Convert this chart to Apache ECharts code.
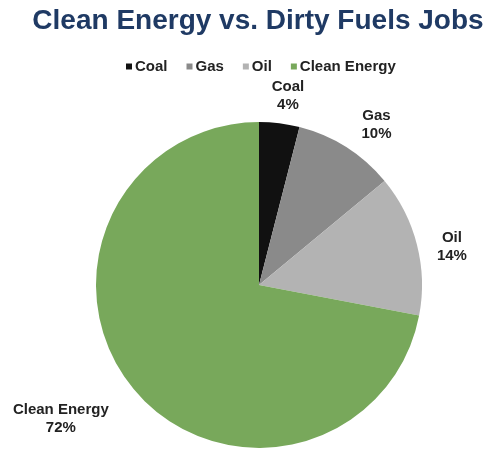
<!doctype html>
<html>
<head>
<meta charset="utf-8">
<title>Clean Energy vs. Dirty Fuels Jobs</title>
<script src="https://cdn.jsdelivr.net/npm/echarts@6/dist/echarts.min.js"></script>
<style>
    body{margin:0;background:#fff;}
    #main{width:486px;height:454px;}
</style>
</head>
<body>
<div id="main"></div>
<script>
    // 数据
    var names = ['Coal', 'Gas', 'Oil', 'Clean Energy'];
    var shares = [4, 10, 14, 72];
    var colors = ['#111111', '#8a8a8a', '#b3b3b3', '#78a85b'];
    // label distance from the pie edge, plus small nudges
    var labelGap = [28, 32, 31, 76];
    var nudgeX = [0, 8, 0, -9];
    var nudgeY = [0, 5, 10, -18];

    var myChart = echarts.init(document.getElementById('main'));
    var option = {
        color: colors,
        title: {
            text: 'Clean Energy vs. Dirty Fuels Jobs',
            left: 253,
            textAlign: 'center',
            top: 2,
            textStyle: {
                fontFamily: 'Liberation Sans',
                fontSize: 28,
                fontWeight: 'bold',
                color: '#1f3a64'
            }
        },
        legend: {
            data: names,
            top: 54,
            left: 121,
            icon: 'rect',
            itemWidth: 6,
            itemHeight: 6,
            itemGap: 19,
            textStyle: {
                fontFamily: 'Liberation Sans',
                fontSize: 15,
                fontWeight: 'bold',
                color: '#222',
                padding: [0, 0, 0, -2]
            }
        },
        series: [{
            type: 'pie',
            center: [259, 285],
            radius: 163,
            startAngle: 90,
            clockwise: true,
            avoidLabelOverlap: false,
            data: names.map(function (n, i) {
                return {name: n, value: shares[i], labelLine: {length: labelGap[i]}};
            }),
            label: {
                show: true,
                position: 'outside',
                formatter: '{b}\n{d}%',
                fontFamily: 'Liberation Sans',
                fontSize: 15,
                fontWeight: 'bold',
                lineHeight: 18,
                color: '#222',
                align: 'center'
            },
            labelLine: {show: false, length: 30, length2: 0},
            labelLayout: function (p) {
                return {align: 'center', dx: nudgeX[p.dataIndex], dy: nudgeY[p.dataIndex]};
            }
        }]
    };
    myChart.setOption(option);
</script>
</body>
</html>
